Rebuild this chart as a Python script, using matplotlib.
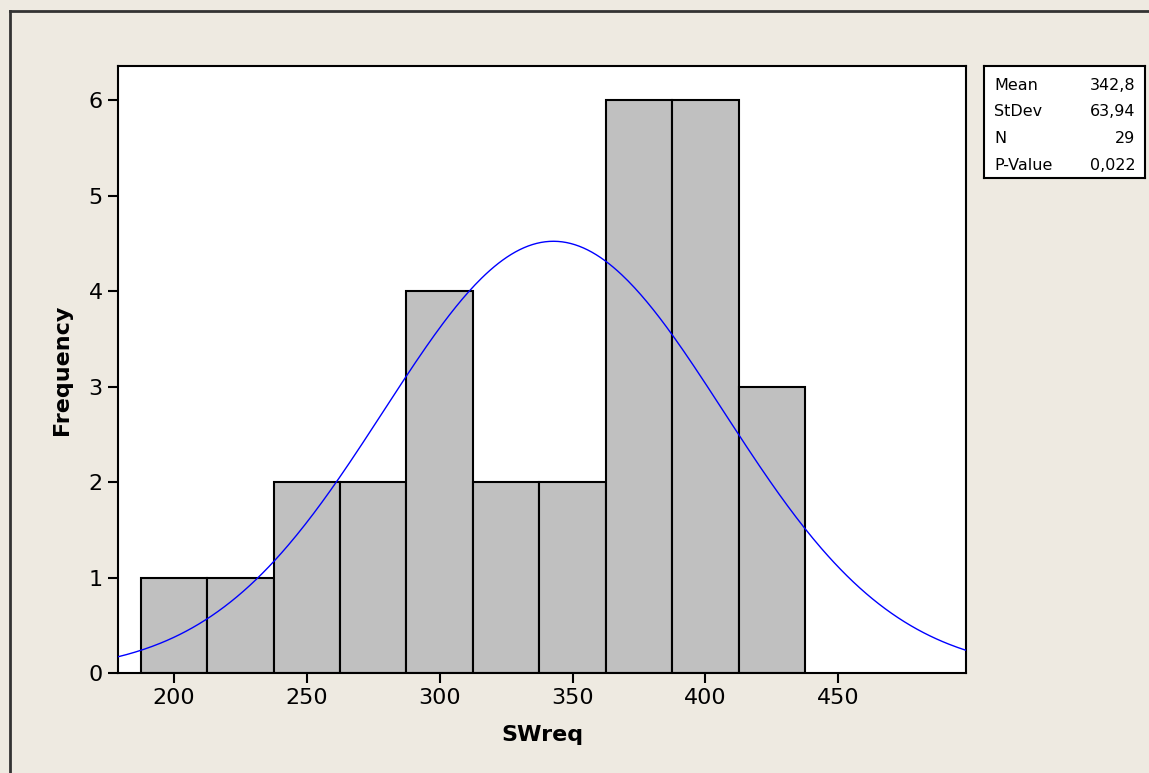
import numpy as np
import matplotlib.pyplot as plt
from matplotlib.lines import Line2D

# Histogram data
bin_centers = [200, 225, 250, 275, 300, 325, 350, 375, 400, 425]
counts = [1, 1, 2, 2, 4, 2, 2, 6, 6, 3]
bin_width = 25

# Fitted normal summary
mean = 342.8
stdev = 63.94
n = 29
p_value = "0,022"

stat_labels = ["Mean", "StDev", "N", "P-Value"]
stat_values = ["342,8", "63,94", "29", p_value]

bg = "#EEEAE1"
fig = plt.figure(figsize=(11.49, 7.73), dpi=100, facecolor=bg)

# outer frame (left and top edges only visible)
fig.add_artist(Line2D([10 / 1149, 10 / 1149], [0, 1 - 11 / 773], transform=fig.transFigure,
                      color="#333333", lw=2))
fig.add_artist(Line2D([10 / 1149, 1], [1 - 11 / 773, 1 - 11 / 773], transform=fig.transFigure,
                      color="#333333", lw=2))

ax = fig.add_axes([118 / 1149, 1 - 673 / 773, 848 / 1149, 607 / 773])
ax.set_facecolor("white")
ax.bar(bin_centers, counts, width=bin_width, color="#C0C0C0", edgecolor="black", linewidth=1.5, zorder=2)

xlim = (179, 498)
xs = np.linspace(xlim[0], xlim[1], 400)
pdf = n * bin_width / (stdev * np.sqrt(2 * np.pi)) * np.exp(-0.5 * ((xs - mean) / stdev) ** 2)
ax.plot(xs, pdf, color="#0000FF", lw=1, zorder=3)

ax.set_xlim(*xlim)
ax.set_ylim(0, 6.36)
ax.set_xticks([200, 250, 300, 350, 400, 450])
ax.set_yticks(range(7))
ax.tick_params(direction="out", length=7, width=1.5, labelsize=16, colors="black", pad=4)
for s in ax.spines.values():
    s.set_linewidth(1.5)
ax.set_xlabel("SWreq", fontsize=16, fontweight="bold", labelpad=12)
ax.set_ylabel("Frequency", fontsize=16, fontweight="bold", labelpad=12)

# stats box
lg = fig.add_axes([984 / 1149, 1 - 178 / 773, 161 / 1149, 112 / 773])
lg.set_facecolor("white")
lg.set_xticks([])
lg.set_yticks([])
for s in lg.spines.values():
    s.set_linewidth(1.5)
for i, (lab, val) in enumerate(zip(stat_labels, stat_values)):
    y = 0.83 - i * 0.24
    lg.text(0.065, y, lab, fontsize=11.5, va="center", ha="left", transform=lg.transAxes)
    lg.text(0.94, y, val, fontsize=11.5, va="center", ha="right", transform=lg.transAxes)

fig.savefig("out.png", dpi=100, facecolor=bg)
